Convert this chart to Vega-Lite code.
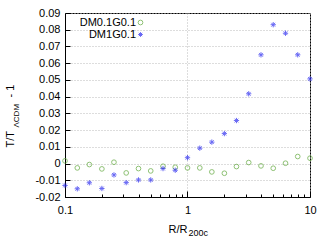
{
  "$schema": "https://vega.github.io/schema/vega-lite/v6.json",
  "width": 245,
  "height": 184,
  "autosize": "none",
  "padding": {"left": 65, "top": 13, "right": 22, "bottom": 51},
  "background": "white",
  "config": {
    "view": {"stroke": "black", "strokeWidth": 1},
    "font": "Liberation Sans",
    "axis": {
      "labelFont": "Liberation Sans",
      "labelFontSize": 11,
      "labelColor": "black",
      "titleFont": "Liberation Sans",
      "titleFontWeight": "normal",
      "titleColor": "black",
      "titleFontSize": 11,
      "domainColor": "black",
      "tickColor": "black",
      "gridColor": "#bbbbbb",
      "gridDash": [1, 2]
    }
  },
  "data": {
    "values": [
      {"r": 0.1, "v": 0.0016, "s": "DM0.1G0.1"},
      {"r": 0.126, "v": -0.0026, "s": "DM0.1G0.1"},
      {"r": 0.158, "v": -0.0006, "s": "DM0.1G0.1"},
      {"r": 0.2, "v": -0.0032, "s": "DM0.1G0.1"},
      {"r": 0.251, "v": 0.0008, "s": "DM0.1G0.1"},
      {"r": 0.316, "v": -0.0056, "s": "DM0.1G0.1"},
      {"r": 0.398, "v": -0.003, "s": "DM0.1G0.1"},
      {"r": 0.501, "v": -0.0044, "s": "DM0.1G0.1"},
      {"r": 0.631, "v": -0.0016, "s": "DM0.1G0.1"},
      {"r": 0.794, "v": -0.0022, "s": "DM0.1G0.1"},
      {"r": 1.0, "v": -0.0026, "s": "DM0.1G0.1"},
      {"r": 1.26, "v": -0.0026, "s": "DM0.1G0.1"},
      {"r": 1.58, "v": -0.005, "s": "DM0.1G0.1"},
      {"r": 2.0, "v": -0.0058, "s": "DM0.1G0.1"},
      {"r": 2.51, "v": -0.0018, "s": "DM0.1G0.1"},
      {"r": 3.16, "v": 0.0006, "s": "DM0.1G0.1"},
      {"r": 3.98, "v": -0.0014, "s": "DM0.1G0.1"},
      {"r": 5.01, "v": -0.0028, "s": "DM0.1G0.1"},
      {"r": 6.31, "v": 0.0002, "s": "DM0.1G0.1"},
      {"r": 7.94, "v": 0.0042, "s": "DM0.1G0.1"},
      {"r": 10.0, "v": 0.0032, "s": "DM0.1G0.1"},
      {"r": 0.1, "v": -0.0131, "s": "DM1G0.1"},
      {"r": 0.126, "v": -0.0151, "s": "DM1G0.1"},
      {"r": 0.158, "v": -0.0115, "s": "DM1G0.1"},
      {"r": 0.2, "v": -0.0149, "s": "DM1G0.1"},
      {"r": 0.251, "v": -0.0068, "s": "DM1G0.1"},
      {"r": 0.316, "v": -0.0114, "s": "DM1G0.1"},
      {"r": 0.398, "v": -0.0098, "s": "DM1G0.1"},
      {"r": 0.501, "v": -0.0098, "s": "DM1G0.1"},
      {"r": 0.631, "v": -0.003, "s": "DM1G0.1"},
      {"r": 0.794, "v": -0.004, "s": "DM1G0.1"},
      {"r": 1.0, "v": 0.0035, "s": "DM1G0.1"},
      {"r": 1.26, "v": 0.0092, "s": "DM1G0.1"},
      {"r": 1.58, "v": 0.0128, "s": "DM1G0.1"},
      {"r": 2.0, "v": 0.0179, "s": "DM1G0.1"},
      {"r": 2.51, "v": 0.0257, "s": "DM1G0.1"},
      {"r": 3.16, "v": 0.0417, "s": "DM1G0.1"},
      {"r": 3.98, "v": 0.065, "s": "DM1G0.1"},
      {"r": 5.01, "v": 0.083, "s": "DM1G0.1"},
      {"r": 6.31, "v": 0.0779, "s": "DM1G0.1"},
      {"r": 7.94, "v": 0.065, "s": "DM1G0.1"},
      {"r": 10.0, "v": 0.0506, "s": "DM1G0.1"}
    ]
  },
  "layer": [
    {
      "transform": [{"filter": "datum.s == 'DM0.1G0.1'"}],
      "mark": {"type": "point", "filled": false, "size": 22, "strokeWidth": 1},
      "encoding": {
        "x": {
          "field": "r", "type": "quantitative",
          "scale": {"type": "log", "domain": [0.1, 10], "nice": false},
          "axis": {
            "orient": "bottom",
            "values": [0.1, 0.2, 0.3, 0.4, 0.5, 0.6, 0.7, 0.8, 0.9, 1, 2, 3, 4, 5, 6, 7, 8, 9, 10],
            "labelExpr": "indexof([0.1, 1, 10], datum.value) >= 0 ? format(datum.value, '~g') : ''",
            "tickSize": {"condition": {"test": "indexof([0.1, 1, 10], datum.value) >= 0", "value": -6}, "value": -3},
            "grid": true,
            "gridOpacity": {"condition": {"test": "indexof([0.1, 1, 10], datum.value) >= 0", "value": 1}, "value": 0},
            "labelPadding": 13,
            "labelFlush": false,
            "labelOverlap": false,
            "title": "R/R",
            "titleAnchor": "start",
            "titleX": 103,
            "titleY": 35,
            "titleAlign": "left",
            "titleBaseline": "alphabetic",
            "titleAngle": 0
          }
        },
        "y": {
          "field": "v", "type": "quantitative",
          "scale": {"domain": [-0.02, 0.09], "nice": false, "zero": false},
          "axis": {
            "orient": "left",
            "values": [-0.02, -0.01, 0, 0.01, 0.02, 0.03, 0.04, 0.05, 0.06, 0.07, 0.08, 0.09],
            "labelExpr": "datum.value < -0.0001 ? '-' + format(-datum.value, '.2f') : (abs(datum.value) < 0.0001 ? '0' : format(datum.value, '.2f'))",
            "tickSize": -5,
            "grid": true,
            "labelPadding": 10,
            "title": "T/T\u00a0\u00a0\u00a0\u00a0\u00a0\u00a0\u00a0\u00a0\u00a0\u00a0\u00a0- 1",
            "titleAnchor": "start",
            "titleX": -52,
            "titleY": 134,
            "titleAngle": 270,
            "titleAlign": "left",
            "titleBaseline": "alphabetic"
          }
        },
        "color": {
          "field": "s", "type": "nominal",
          "scale": {"domain": ["DM0.1G0.1", "DM1G0.1"], "range": ["#5fa83a", "#2a2af0"]},
          "legend": {
            "orient": "none", "legendX": 70, "legendY": 4, "title": null,
            "labelAlign": "right", "labelOffset": -10, "labelFontSize": 11,
            "labelFont": "Liberation Sans", "labelColor": "black",
            "symbolSize": 22, "symbolStrokeWidth": 1, "rowPadding": 0, "padding": 0
          }
        },
        "shape": {
          "field": "s", "type": "nominal",
          "scale": {"domain": ["DM0.1G0.1", "DM1G0.1"], "range": ["circle", "M-1,0L1,0M0,-1L0,1M-0.7,-0.7L0.7,0.7M-0.7,0.7L0.7,-0.7"]},
          "legend": {
            "orient": "none", "legendX": 70, "legendY": 4, "title": null,
            "labelAlign": "right", "labelOffset": -10, "labelFontSize": 11,
            "labelFont": "Liberation Sans", "labelColor": "black",
            "symbolSize": 22, "symbolStrokeWidth": 1, "rowPadding": 0, "padding": 0
          }
        }
      }
    },
    {
      "transform": [{"filter": "datum.s == 'DM1G0.1'"}],
      "mark": {"type": "point", "filled": false, "size": 28, "strokeWidth": 1},
      "encoding": {
        "x": {
          "field": "r", "type": "quantitative",
          "scale": {"type": "log", "domain": [0.1, 10], "nice": false},
          "axis": {
            "orient": "top", "domain": false, "ticks": false, "labels": false, "grid": false,
            "title": "200c",
            "titleAnchor": "start",
            "titleX": 123, "titleY": 222, "titleAlign": "left", "titleBaseline": "alphabetic",
            "titleAngle": 0, "titleFontSize": 9
          }
        },
        "y": {
          "field": "v", "type": "quantitative",
          "scale": {"domain": [-0.02, 0.09], "nice": false, "zero": false},
          "axis": {
            "orient": "right", "domain": false, "ticks": false, "labels": false, "grid": false,
            "title": "ΛCDM",
            "titleAnchor": "start",
            "titleX": -292, "titleY": 114, "titleAngle": 270, "titleAlign": "left",
            "titleBaseline": "alphabetic", "titleFontSize": 8
          }
        },
        "color": {"field": "s", "type": "nominal", "scale": {"domain": ["DM0.1G0.1", "DM1G0.1"], "range": ["#5fa83a", "#2a2af0"]}},
        "shape": {"field": "s", "type": "nominal", "scale": {"domain": ["DM0.1G0.1", "DM1G0.1"], "range": ["circle", "M-1,0L1,0M0,-1L0,1M-0.7,-0.7L0.7,0.7M-0.7,0.7L0.7,-0.7"]}}
      }
    }
  ],
  "resolve": {"axis": {"x": "independent", "y": "independent"}}
}
